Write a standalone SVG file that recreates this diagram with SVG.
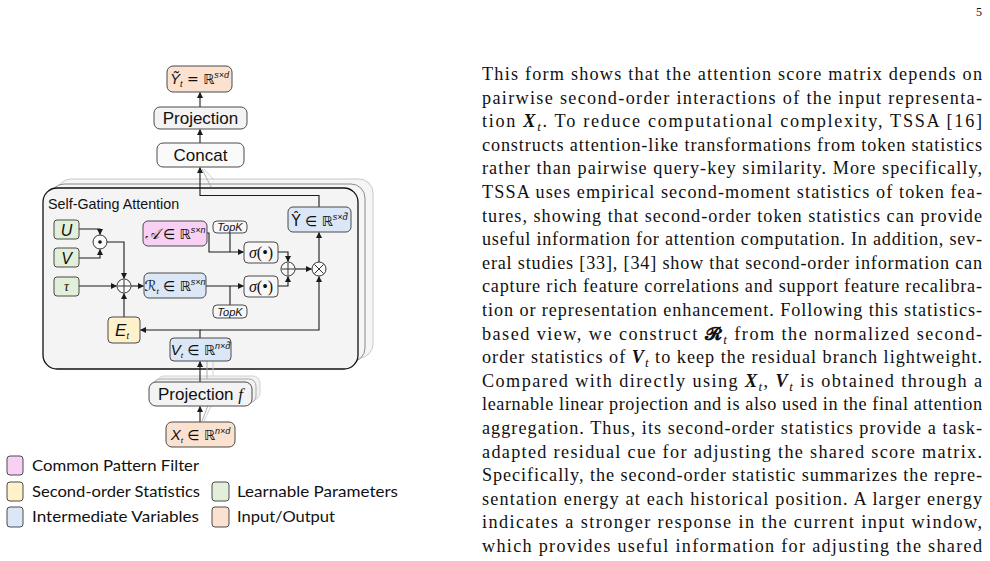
<svg xmlns="http://www.w3.org/2000/svg" width="990" height="561" viewBox="0 0 990 561">
<style>
.bg{fill:#ffffff}
.sans{font-family:"Liberation Sans",Arial,sans-serif;fill:#111}
.mi{font-family:"Liberation Sans",Arial,sans-serif;font-style:italic;fill:#111}
.rr{font-family:"DejaVu Sans","Liberation Sans",sans-serif;font-style:normal}
.body{font-family:"Liberation Serif","Times New Roman",serif;font-size:18.2px;fill:#111}
.leg{font-family:Lato,"Open Sans",sans-serif;font-size:16px;fill:#111}
.n{stroke:#4a4a4a;stroke-width:1}
.green{fill:#e2efd9}
.pink{fill:#f8d0f3}
.blue{fill:#dbe7f6}
.yellow{fill:#fff1c9}
.peach{fill:#fbe1d0}
.grey{fill:#f3f3f3}
.white{fill:#fafafa}
.c{fill:none;stroke:#1a1a1a;stroke-width:1.1}
.sh{fill:none;stroke:#a8a8a8;stroke-width:0.9}
.sh2{fill:none;stroke:#cccccc;stroke-width:0.9}
.op{fill:#fafafa;stroke:#333;stroke-width:1}
.opl{stroke:#333;stroke-width:1}
</style>
<defs>
<marker id="ah" markerWidth="6" markerHeight="6" refX="5.5" refY="3" orient="auto" markerUnits="userSpaceOnUse">
<path d="M0,0 L6,3 L0,6 z" fill="#1a1a1a"/>
</marker>
</defs>
<rect class="bg" x="0" y="0" width="990" height="561"/>

<!-- page number -->
<text x="982" y="16" text-anchor="end" class="body" style="font-size:12px">5</text>

<!-- Self-gating attention container with stacked panels -->
<g id="sga-panels">
<rect x="57" y="179" width="316" height="179" rx="14" fill="#f5f5f5" stroke="#c8c8c8" stroke-width="1"/>
<rect x="50" y="184" width="315" height="178" rx="14" fill="#f5f5f5" stroke="#8a8a8a" stroke-width="1"/>
<rect x="43" y="188" width="315" height="181" rx="14" fill="#f4f4f4" stroke="#111" stroke-width="1.3"/>
<text x="48" y="209" class="sans" font-size="14.3">Self-Gating Attention</text>
</g>

<g id="proj-f-shadows">
<rect x="157" y="376" width="103" height="24" rx="7" fill="#f2f2f2" stroke="#d0d0d0"/>
<rect x="153" y="379" width="103" height="24" rx="7" fill="#f2f2f2" stroke="#aaaaaa"/>
</g>

<g id="connectors">
<line class="c" x1="200" y1="107" x2="200" y2="92.5" marker-end="url(#ah)"/>
<line class="c" x1="200" y1="143" x2="200" y2="129.5" marker-end="url(#ah)"/>
<polyline class="c" points="319,207.5 319,195.5 200,195.5 200,167.5" marker-end="url(#ah)"/>
<line class="sh" x1="202" y1="169" x2="211" y2="187"/>
<line class="sh2" x1="204" y1="169" x2="214" y2="180"/>
<polyline class="c" points="79,229 100,229 100,234.5" marker-end="url(#ah)"/>
<polyline class="c" points="79,258 100,258 100,249.5" marker-end="url(#ah)"/>
<polyline class="c" points="107,242 124,242 124,278.5" marker-end="url(#ah)"/>
<line class="c" x1="79" y1="286" x2="116.5" y2="286" marker-end="url(#ah)"/>
<line class="c" x1="124" y1="317" x2="124" y2="293.5" marker-end="url(#ah)"/>
<line class="c" x1="131" y1="286" x2="143.5" y2="286" marker-end="url(#ah)"/>
<polyline class="c" points="207,233 209,233 209,252 243.5,252" marker-end="url(#ah)"/>
<line class="c" x1="230" y1="233" x2="230" y2="252"/>
<line class="c" x1="206" y1="286" x2="243.5" y2="286" marker-end="url(#ah)"/>
<line class="c" x1="230" y1="286" x2="230" y2="305"/>
<polyline class="c" points="278,252 288,252 288,261.5" marker-end="url(#ah)"/>
<polyline class="c" points="278,286 288,286 288,276.5" marker-end="url(#ah)"/>
<line class="c" x1="295" y1="269" x2="311.5" y2="269" marker-end="url(#ah)"/>
<line class="c" x1="319" y1="262" x2="319" y2="232.5" marker-end="url(#ah)"/>
<polyline class="c" points="200,338 200,330 140.5,330" marker-end="url(#ah)"/>
<polyline class="c" points="200,330 319,330 319,276.5" marker-end="url(#ah)"/>
<line class="c" x1="200" y1="382" x2="200" y2="361.5" marker-end="url(#ah)"/>
<line class="sh" x1="207" y1="361" x2="207" y2="379"/>
<line class="sh2" x1="213" y1="361" x2="213" y2="376"/>
<line class="c" x1="200" y1="422" x2="200" y2="406.5" marker-end="url(#ah)"/>
<line class="sh" x1="202" y1="421" x2="209" y2="403"/>
<line class="sh2" x1="204" y1="421" x2="214" y2="400"/>
</g>

<g id="node-ytilde">
<rect class="n peach" x="167" y="66" width="65" height="26" rx="6"/>
<text x="199.5" y="84" text-anchor="middle" class="mi" font-size="15">Ỹ<tspan font-size="9" dy="3">t</tspan><tspan class="rr" dy="-3" font-size="14"> = ℝ</tspan><tspan font-size="9" dy="-6">s×d</tspan></text>
</g>
<g id="node-projection">
<rect class="n grey" x="154" y="107" width="93" height="22" rx="6" stroke="#333"/>
<text x="200.5" y="124" text-anchor="middle" class="sans" font-size="17">Projection</text>
</g>
<g id="node-concat">
<rect class="n white" x="157" y="143" width="87" height="24" rx="6" stroke="#333"/>
<text x="200.5" y="161" text-anchor="middle" class="sans" font-size="17">Concat</text>
</g>

<g id="node-U">
<rect class="n green" x="54" y="220" width="25" height="19" rx="3"/>
<text x="66.5" y="236" text-anchor="middle" class="mi" font-size="16">U</text>
</g>
<g id="node-V">
<rect class="n green" x="54" y="248" width="25" height="19" rx="3"/>
<text x="66.5" y="264" text-anchor="middle" class="mi" font-size="16">V</text>
</g>
<g id="node-tau">
<rect class="n green" x="54" y="277" width="25" height="19" rx="3"/>
<text x="66.5" y="291" text-anchor="middle" class="mi" font-size="14" style="font-family:'Liberation Serif',serif">τ</text>
</g>
<g id="node-hadamard">
<circle class="op" cx="100" cy="242" r="7"/>
<circle cx="100" cy="242" r="1.8" fill="#111"/>
</g>
<g id="node-add1">
<circle class="op" cx="124" cy="286" r="7"/>
<line class="opl" x1="118" y1="286" x2="130" y2="286"/>
<line class="opl" x1="124" y1="280" x2="124" y2="292"/>
</g>
<g id="node-A">
<rect class="n pink" x="143" y="221" width="64" height="25" rx="5"/>
<text x="175" y="239" text-anchor="middle" class="mi" font-size="15"><tspan style="font-family:'DejaVu Sans',serif">𝒜</tspan><tspan class="rr" font-size="14"> ∈ ℝ</tspan><tspan font-size="9" dy="-6">s×n</tspan></text>
</g>
<g id="node-R">
<rect class="n blue" x="144" y="273" width="62" height="25" rx="5"/>
<text x="175" y="291" text-anchor="middle" class="mi" font-size="15"><tspan class="rr">ℛ</tspan><tspan font-size="8" dy="3">t</tspan><tspan class="rr" font-size="14" dy="-3"> ∈ ℝ</tspan><tspan font-size="9" dy="-6">s×n</tspan></text>
</g>
<g id="node-topk1">
<rect class="n" fill="#f7f7f7" x="213" y="221" width="34" height="12" rx="4"/>
<text x="230" y="231" text-anchor="middle" class="mi" font-size="11">TopK</text>
</g>
<g id="node-topk2">
<rect class="n" fill="#f7f7f7" x="213" y="305" width="34" height="13" rx="4"/>
<text x="230" y="315.5" text-anchor="middle" class="mi" font-size="11">TopK</text>
</g>
<g id="node-sigma1">
<rect class="n" fill="#f7f7f7" x="244" y="242" width="34" height="21" rx="4"/>
<text x="261" y="258" text-anchor="middle" font-family="Liberation Serif,serif" font-size="16" fill="#111"><tspan font-style="italic">σ</tspan>(•)</text>
</g>
<g id="node-sigma2">
<rect class="n" fill="#f7f7f7" x="244" y="276" width="34" height="21" rx="4"/>
<text x="261" y="292" text-anchor="middle" font-family="Liberation Serif,serif" font-size="16" fill="#111"><tspan font-style="italic">σ</tspan>(•)</text>
</g>
<g id="node-add2">
<circle class="op" cx="288" cy="269" r="7"/>
<line class="opl" x1="282" y1="269" x2="294" y2="269"/>
<line class="opl" x1="288" y1="263" x2="288" y2="275"/>
</g>
<g id="node-mul">
<circle class="op" cx="319" cy="269" r="7"/>
<line class="opl" x1="314.5" y1="264.5" x2="323.5" y2="273.5"/>
<line class="opl" x1="314.5" y1="273.5" x2="323.5" y2="264.5"/>
</g>
<g id="node-Yhat">
<rect class="n blue" x="288" y="207" width="63" height="25" rx="5"/>
<text x="319.5" y="226" text-anchor="middle" class="mi" font-size="15"><tspan class="rr">Ŷ</tspan><tspan class="rr" font-size="14"> ∈ ℝ</tspan><tspan font-size="9" dy="-6">s×d̃</tspan></text>
</g>
<g id="node-E">
<rect class="n yellow" x="108" y="317" width="32" height="26" rx="4"/>
<text x="122" y="336" text-anchor="middle" class="mi" font-size="17">E<tspan font-size="9" dy="3">t</tspan></text>
</g>
<g id="node-Vt">
<rect class="n blue" x="170" y="338" width="61" height="23" rx="4"/>
<text x="200.5" y="355" text-anchor="middle" class="mi" font-size="15">V<tspan font-size="8" dy="3">t</tspan><tspan class="rr" font-size="14" dy="-3"> ∈ ℝ</tspan><tspan font-size="9" dy="-6">n×d̃</tspan></text>
</g>
<g id="node-projf">
<rect class="n grey" x="149" y="382" width="103" height="24" rx="7" stroke="#333"/>
<text x="200.5" y="400" text-anchor="middle" class="sans" font-size="17">Projection <tspan font-style="italic" font-family="Liberation Serif,serif">f</tspan></text>
</g>
<g id="node-Xt">
<rect class="n peach" x="166" y="422" width="69" height="25" rx="6"/>
<text x="200.5" y="440" text-anchor="middle" class="mi" font-size="15">X<tspan font-size="8" dy="3">t</tspan><tspan class="rr" font-size="14" dy="-3"> ∈ ℝ</tspan><tspan font-size="9" dy="-6">n×d</tspan></text>
</g>

<g id="legend">
<rect class="n pink" x="7" y="456" width="16" height="19" rx="3" stroke="#666"/>
<text x="32" y="471" class="leg" textLength="167" lengthAdjust="spacingAndGlyphs">Common Pattern Filter</text>
<rect class="n yellow" x="7" y="482" width="16" height="19" rx="3" stroke="#666"/>
<text x="32" y="497" class="leg" textLength="168" lengthAdjust="spacingAndGlyphs">Second-order Statistics</text>
<rect class="n blue" x="7" y="507" width="16" height="20" rx="3" stroke="#666"/>
<text x="32" y="522" class="leg" textLength="167" lengthAdjust="spacingAndGlyphs">Intermediate Variables</text>
<rect class="n green" x="212" y="482" width="17" height="19" rx="3" stroke="#666"/>
<text x="237" y="497" class="leg" textLength="161" lengthAdjust="spacingAndGlyphs">Learnable Parameters</text>
<rect class="n peach" x="212" y="507" width="17" height="20" rx="3" stroke="#666"/>
<text x="237" y="522" class="leg" textLength="98" lengthAdjust="spacingAndGlyphs">Input/Output</text>
</g>

<g id="body-text">
<text x="482" y="80" class="body" textLength="500" lengthAdjust="spacing">This form shows that the attention score matrix depends on</text>
<text x="482" y="103.6" class="body" textLength="500" lengthAdjust="spacing">pairwise second-order interactions of the input representa-</text>
<text x="482" y="127.2" class="body" textLength="500" lengthAdjust="spacing">tion <tspan font-weight="bold" font-style="italic">X</tspan><tspan font-style="italic" font-size="13" dy="4">t</tspan><tspan dy="-4">. To reduce computational complexity, TSSA [16]</tspan></text>
<text x="482" y="150.8" class="body" textLength="500" lengthAdjust="spacing">constructs attention-like transformations from token statistics</text>
<text x="482" y="174.4" class="body" textLength="500" lengthAdjust="spacing">rather than pairwise query-key similarity. More specifically,</text>
<text x="482" y="198" class="body" textLength="500" lengthAdjust="spacing">TSSA uses empirical second-moment statistics of token fea-</text>
<text x="482" y="221.6" class="body" textLength="500" lengthAdjust="spacing">tures, showing that second-order token statistics can provide</text>
<text x="482" y="245.2" class="body" textLength="500" lengthAdjust="spacing">useful information for attention computation. In addition, sev-</text>
<text x="482" y="268.8" class="body" textLength="500" lengthAdjust="spacing">eral studies [33], [34] show that second-order information can</text>
<text x="482" y="292.4" class="body" textLength="500" lengthAdjust="spacing">capture rich feature correlations and support feature recalibra-</text>
<text x="482" y="316" class="body" textLength="500" lengthAdjust="spacing">tion or representation enhancement. Following this statistics-</text>
<text x="482" y="339.6" class="body" textLength="500" lengthAdjust="spacing">based view, we construct <tspan font-family="DejaVu Sans,serif" font-weight="bold">𝓡</tspan><tspan font-style="italic" font-size="13" dy="4">t</tspan><tspan dy="-4"> from the normalized second-</tspan></text>
<text x="482" y="363.2" class="body" textLength="500" lengthAdjust="spacing">order statistics of <tspan font-weight="bold" font-style="italic">V</tspan><tspan font-style="italic" font-size="13" dy="4">t</tspan><tspan dy="-4"> to keep the residual branch lightweight.</tspan></text>
<text x="482" y="386.8" class="body" textLength="500" lengthAdjust="spacing">Compared with directly using <tspan font-weight="bold" font-style="italic">X</tspan><tspan font-style="italic" font-size="13" dy="4">t</tspan><tspan dy="-4">, </tspan><tspan font-weight="bold" font-style="italic">V</tspan><tspan font-style="italic" font-size="13" dy="4">t</tspan><tspan dy="-4"> is obtained through a</tspan></text>
<text x="482" y="410.4" class="body" textLength="500" lengthAdjust="spacing">learnable linear projection and is also used in the final attention</text>
<text x="482" y="434" class="body" textLength="500" lengthAdjust="spacing">aggregation. Thus, its second-order statistics provide a task-</text>
<text x="482" y="457.6" class="body" textLength="500" lengthAdjust="spacing">adapted residual cue for adjusting the shared score matrix.</text>
<text x="482" y="481.2" class="body" textLength="500" lengthAdjust="spacing">Specifically, the second-order statistic summarizes the repre-</text>
<text x="482" y="504.8" class="body" textLength="500" lengthAdjust="spacing">sentation energy at each historical position. A larger energy</text>
<text x="482" y="528.4" class="body" textLength="500" lengthAdjust="spacing">indicates a stronger response in the current input window,</text>
<text x="482" y="552" class="body" textLength="500" lengthAdjust="spacing">which provides useful information for adjusting the shared</text>
</g>
</svg>
